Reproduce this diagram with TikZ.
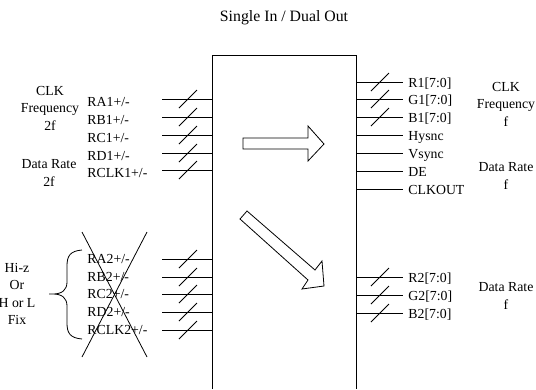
\documentclass[tikz,border=0pt]{standalone}
\usepackage{fontspec}
\setmainfont{Liberation Serif}
\begin{document}
\begin{tikzpicture}[x=1pt,y=-1pt,line width=0.9pt,
  lbl/.style={inner sep=0pt,font=\fontsize{13.8}{17}\selectfont,anchor=base west},
  grp/.style={inner sep=0pt,font=\fontsize{13.8}{17.5}\selectfont,align=center},
  slash/.style={line width=0.8pt},
  bigarrow/.style={line width=0.8pt,line join=miter}]
\useasboundingbox (0,0) rectangle (536,389);
% title
\node[grp,font=\fontsize{15.8}{18}\selectfont] (title) at (284,18) {Single In / Dual Out};
% main box (open at the bottom)
\coordinate (bl) at (212,389);
\coordinate (tl) at (212,55);
\coordinate (tr) at (356,55);
\coordinate (br) at (356,389);
\draw (bl) -- (tl) -- (tr) -- (br);
% upper left inputs
\foreach \y/\t [count=\i] in {99/{RA1+/-},117/{RB1+/-},135/{RC1+/-},153/{RD1+/-},170/{RCLK1+/-}}{
  \coordinate (li\i) at (162,\y);
  \coordinate (lo\i) at (212,\y);
  \draw (li\i) -- (lo\i);
  \coordinate (ls\i a) at (179,\y+9);
  \coordinate (ls\i b) at (197,\y-9);
  \draw[slash] (ls\i a) -- (ls\i b);
  \node[lbl] (ul\i) at (87,\y+7.6) {\t};
}
% lower left inputs
\foreach \y/\t [count=\i] in {259/{RA2+/-},277/{RB2+/-},294/{RC2+/-},312/{RD2+/-},330/{RCLK2+/-}}{
  \coordinate (mi\i) at (162,\y);
  \coordinate (mo\i) at (212,\y);
  \draw (mi\i) -- (mo\i);
  \coordinate (ms\i a) at (179,\y+9);
  \coordinate (ms\i b) at (197,\y-9);
  \draw[slash] (ms\i a) -- (ms\i b);
  \node[lbl] (dl\i) at (87,\y+4.6) {\t};
}
% cross over the lower left labels
\coordinate (x1) at (82,232);
\coordinate (x2) at (147,357);
\coordinate (x3) at (147,232);
\coordinate (x4) at (82,357);
\draw[line width=0.8pt] (x1) -- (x2);
\draw[line width=0.8pt] (x3) -- (x4);
% brace
\draw[line width=0.8pt] (82,250) .. controls (70,251) and (67,256) .. (67,266)
  -- (67,282) .. controls (67,290) and (62,294) .. (53,294) -- (49,294)
  (53,294) .. controls (62,294) and (67,298) .. (67,306)
  -- (67,323) .. controls (67,333) and (70,338) .. (82,339);
% upper right outputs
\foreach \y/\t/\s [count=\i] in {82/{R1[7:0]}/1,99/{G1[7:0]}/1,117/{B1[7:0]}/1,135/Hysnc/0,153/Vsync/0,171/DE/0,189/CLKOUT/0}{
  \coordinate (ri\i) at (356,\y);
  \coordinate (ro\i) at (403,\y);
  \draw (ri\i) -- (ro\i);
  \ifnum\s=1
    \coordinate (rs\i a) at (371,\y+9);
    \coordinate (rs\i b) at (389,\y-9);
    \draw[slash] (rs\i a) -- (rs\i b);
  \fi
  \node[lbl] (ur\i) at (408,\y+5.2) {\t};
}
% lower right outputs
\foreach \y/\t [count=\i] in {277/{R2[7:0]},295/{G2[7:0]},313/{B2[7:0]}}{
  \coordinate (qi\i) at (356,\y);
  \coordinate (qo\i) at (403,\y);
  \draw (qi\i) -- (qo\i);
  \coordinate (qs\i a) at (371,\y+9);
  \coordinate (qs\i b) at (389,\y-9);
  \draw[slash] (qs\i a) -- (qs\i b);
  \node[lbl] (dr\i) at (408,\y+5.2) {\t};
}
% group labels
\node[grp] (clkin) at (50,108) {CLK\\Frequency\\2f};
\node[grp] (drin) at (49,173) {Data Rate\\2f};
\node[grp] (hiz) at (17,294) {Hi-z\\Or\\H or L\\Fix};
\node[grp] (clkout) at (506,104) {CLK\\Frequency\\f};
\node[grp] (drout) at (506,176) {Data Rate\\f};
\node[grp] (drout2) at (506,296) {Data Rate\\f};
% big hollow arrows
\draw[bigarrow] (243,138) -- (308,138) -- (308,126) -- (324,144) -- (308,161) -- (308,149) -- (243,149) -- cycle;
\draw[bigarrow] (247,211) -- (315,270) -- (322,261) -- (324,286) -- (302,289) -- (308,280) -- (240,219) -- cycle;
\end{tikzpicture}
\end{document}
